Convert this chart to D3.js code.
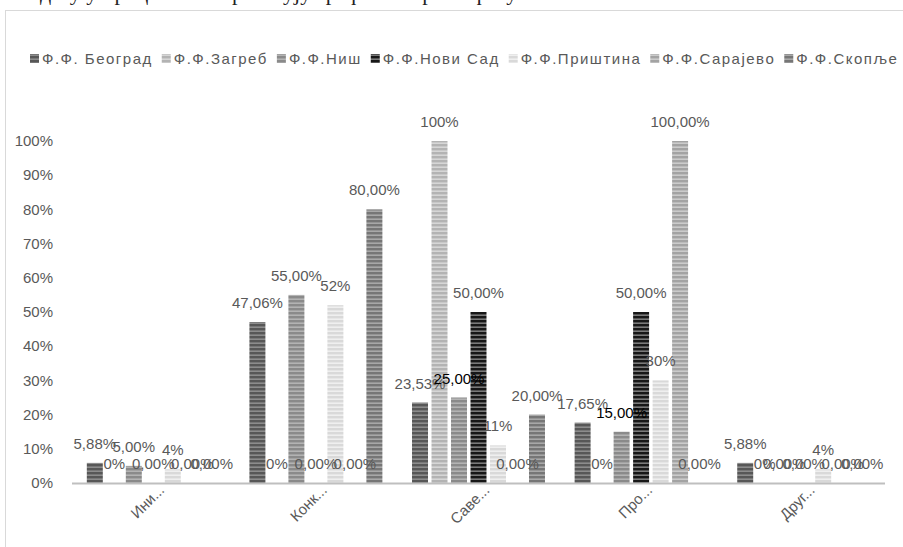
<!DOCTYPE html>
<html>
<head>
<meta charset="utf-8">
<script src="https://cdn.jsdelivr.net/npm/d3@7"></script>
<style>
  body { margin: 0; background: #fff; }
  svg { display: block; font-family: "Liberation Sans", Arial, sans-serif; }
</style>
</head>
<body>
<svg width="903" height="547"></svg>
<script>
// data
var categories = ["Ини...", "Конк...", "Саве...", "Про...", "Друг..."];
var seriesNames = ["Ф.Ф. Београд", "Ф.Ф.Загреб", "Ф.Ф.Ниш", "Ф.Ф.Нови Сад", "Ф.Ф.Приштина", "Ф.Ф.Сарајево", "Ф.Ф.Скопље"];
var beograd  = [0.0588, 0.4706, 0.2353, 0.1765, 0.0588];
var zagreb   = [0, 0, 1.00, 0, 0];
var nis      = [0.05, 0.55, 0.25, 0.15, 0];
var noviSad  = [0, 0, 0.50, 0.50, 0];
var pristina = [0.04, 0.52, 0.11, 0.30, 0.04];
var sarajevo = [0, 0, 0, 1.00, 0];
var skoplje  = [0, 0.80, 0.20, 0, 0];
var yTicks = [0, 0.1, 0.2, 0.3, 0.4, 0.5, 0.6, 0.7, 0.8, 0.9, 1.0];

var allSeries = [beograd, zagreb, nis, noviSad, pristina, sarajevo, skoplje];

// stripe colours [dark, light] per series
var stripes = [
  ["#575757", "#8c8c8c"],
  ["#b3b3b3", "#d6d6d6"],
  ["#8a8a8a", "#b3b3b3"],
  ["#171717", "#7a7a7a"],
  ["#d9d9d9", "#efefef"],
  ["#a3a3a3", "#cbcbcb"],
  ["#767676", "#a8a8a8"]
];
// Загреб and Приштина labels use whole percents
var intFormat = [false, true, false, false, true, false, false];

var locale = d3.formatLocale({ decimal: ",", thousands: ".", grouping: [3], currency: ["", ""] });
var fmt2 = locale.format(".2%"), fmt0 = locale.format(".0%");

var svg = d3.select("svg");
var textCol = "#595959";

// clipped line of document text above the chart, only descenders show
svg.append("text")
  .attr("x", 40).attr("y", 0)
  .style("font-family", "'Liberation Serif', serif")
  .style("font-size", "22px")
  .attr("fill", "#222")
  .text("дату у процентима приказују графикон према факултетима");

// chart border (runs off the right and bottom)
svg.append("rect")
  .attr("x", 5.5).attr("y", 10.5)
  .attr("width", 910).attr("height", 560)
  .attr("fill", "none").attr("stroke", "#d9d9d9");

var defs = svg.append("defs");
stripes.forEach(function (c, i) {
  var p = defs.append("pattern")
    .attr("id", "st" + i)
    .attr("patternUnits", "userSpaceOnUse")
    .attr("width", 4).attr("height", 4);
  p.append("rect").attr("width", 4).attr("height", 4).attr("fill", c[1]);
  p.append("rect").attr("width", 4).attr("height", 2.4).attr("fill", c[0]);
});

var x0 = d3.scaleBand().domain(categories).range([72, 885]);
var x1 = d3.scaleBand().domain(d3.range(seriesNames.length))
  .range([0, x0.bandwidth()]).paddingInner(0.18).paddingOuter(0.76);
var y = d3.scaleLinear().domain([0, 1]).range([483, 141]);

// y axis labels
svg.selectAll(".ytick").data(yTicks).enter().append("text")
  .attr("class", "ytick")
  .attr("x", 53).attr("y", function (d) { return y(d); })
  .attr("dy", "0.35em")
  .attr("text-anchor", "end")
  .attr("fill", textCol)
  .style("font-size", "15px")
  .text(function (d) { return fmt0(d); });

// bars
var groups = svg.selectAll(".cat").data(categories).enter().append("g")
  .attr("class", "cat")
  .attr("transform", function (d) { return "translate(" + x0(d) + ",0)"; });

groups.each(function (cat, ci) {
  var g = d3.select(this);
  allSeries.forEach(function (s, si) {
    var v = s[ci];
    g.append("rect")
      .attr("x", x1(si))
      .attr("y", y(v))
      .attr("width", x1.bandwidth())
      .attr("height", y(0) - y(v))
      .attr("fill", "url(#st" + si + ")");
  });
});

// data labels
groups.each(function (cat, ci) {
  var g = d3.select(this);
  allSeries.forEach(function (s, si) {
    var v = s[ci];
    var dark = si === 2 && (ci === 2 || ci === 3);
    g.append("text")
      .attr("x", x1(si) + x1.bandwidth() / 2)
      .attr("y", y(v) - 14)
      .attr("text-anchor", "middle")
      .attr("fill", dark ? "#000" : textCol)
      .style("font-size", "15px")
      .text(intFormat[si] ? fmt0(v) : fmt2(v));
  });
});

// category axis line
svg.append("line")
  .attr("x1", x0.range()[0]).attr("x2", x0.range()[1])
  .attr("y1", y(0) + 0.5).attr("y2", y(0) + 0.5)
  .attr("stroke", "#bfbfbf").attr("stroke-width", 2);

// rotated category labels
svg.selectAll(".xlab").data(categories).enter().append("text")
  .attr("class", "xlab")
  .attr("text-anchor", "end")
  .attr("fill", textCol)
  .style("font-size", "15px")
  .attr("transform", function (d) {
    return "translate(" + (x0(d) + x0.bandwidth() / 2 + 12) + ",491) rotate(-45)";
  })
  .text(function (d) { return d; });

// legend
var legend = svg.append("g").attr("transform", "translate(30,0)");
var lx = 0;
seriesNames.forEach(function (name, i) {
  legend.append("rect")
    .attr("x", lx).attr("y", 54)
    .attr("width", 9).attr("height", 9)
    .attr("fill", "url(#st" + i + ")");
  var t = legend.append("text")
    .attr("x", lx + 12).attr("y", 64)
    .attr("fill", textCol)
    .style("font-size", "15px")
    .style("letter-spacing", "1.5px")
    .text(name);
  lx += 12 + t.node().getComputedTextLength() + 9;
});
</script>
</body>
</html>
